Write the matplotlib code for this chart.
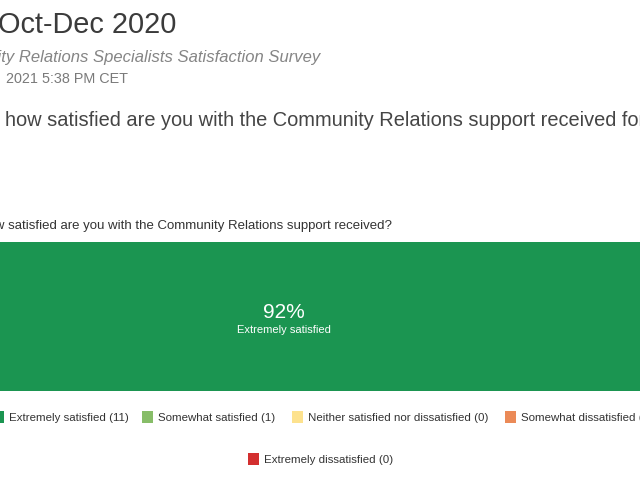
import matplotlib
matplotlib.use("Agg")
import matplotlib.pyplot as plt
from matplotlib.patches import Rectangle

# Survey answers
categories = ["Extremely satisfied", "Somewhat satisfied",
              "Neither satisfied nor dissatisfied", "Somewhat dissatisfied",
              "Extremely dissatisfied"]
counts = [11, 1, 0, 0, 0]
colors = ["#1b9551", "#87bd68", "#fde28e", "#eb8a57", "#d32f2f"]

title = "Oct-Dec 2020"
subtitle = "Community Relations Specialists Satisfaction Survey"
stamp = "2021 5:38 PM CET"
question = "how satisfied are you with the Community Relations support received for"
chart_title = "How satisfied are you with the Community Relations support received?"

W, H = 640, 480
plain = ["Liberation Sans", "DejaVu Sans"]

fig = plt.figure(figsize=(6.4, 4.8), dpi=100)
fig.patch.set_facecolor("white")

def fx(px):
    return px / W

def fy(py):
    return 1 - py / H

# header texts
fig.text(fx(176), fy(33), title, ha="right", va="baseline", fontsize=20.8,
         color="#3b3b3b", family=plain)
fig.text(fx(320), fy(62), subtitle, ha="right", va="baseline", fontsize=11.95,
         color="#858585", style="italic", family=plain)
fig.text(fx(6), fy(83), stamp, ha="left", va="baseline", fontsize=10.4,
         color="#7a7a7a", family=plain)
fig.text(fx(5), fy(126), question, ha="left", va="baseline", fontsize=14.4,
         color="#454545", family=plain)
fig.text(fx(392), fy(229), chart_title, ha="right", va="baseline", fontsize=9.55,
         color="#333333", family=plain)

# stacked bar, wider than the visible area
total = sum(counts)
pct = [100.0 * c / total for c in counts]
ax = fig.add_axes([fx(-100), fy(391), 837 / W, 149 / H])
left = 0
for p, c in zip(pct, colors):
    if p > 0:
        ax.barh(0, p, left=left, height=1, color=c, edgecolor="none")
    left += p
ax.set_xlim(0, 100)
ax.set_ylim(-0.5, 0.5)
ax.axis("off")
ax.text(pct[0] / 2, 0.025, f"{pct[0]:.0f}%", ha="center", va="center",
        fontsize=15, color="white", family=plain)
ax.text(pct[0] / 2, -0.09, categories[0], ha="center", va="center",
        fontsize=8, color="white", family=plain)

# legend, laid out like the survey tool does it
leg_pos = [(-7, 417), (142, 417), (292, 417), (505, 417), (248, 459)]
for (px, py), name, n, c in zip(leg_pos, categories, counts, colors):
    fig.patches.append(Rectangle((fx(px), fy(py + 6)), 11 / W, 12 / H,
                                 transform=fig.transFigure, facecolor=c,
                                 edgecolor="none"))
    fig.text(fx(px + 16), fy(py + 1), f"{name} ({n})", ha="left", va="center",
             fontsize=8.25, color="#333333", family=plain)

fig.savefig("out.png", dpi=100)
